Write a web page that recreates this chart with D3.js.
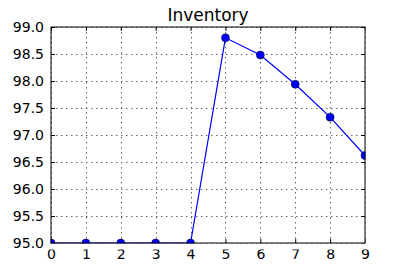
<!DOCTYPE html>
<html>
<head>
<meta charset="utf-8">
<script src="https://cdn.jsdelivr.net/npm/d3@7"></script>
<style>
  body { margin: 0; background: #fff; }
  svg { display: block; font-family: "DejaVu Sans", sans-serif; }
</style>
</head>
<body>
<div id="chart"></div>
<script>
// chart data
const steps = [0, 1, 2, 3, 4, 5, 6, 7, 8, 9];
const inventory = [95.0, 95.0, 95.0, 95.0, 95.0, 98.8, 98.48, 97.94, 97.33, 96.62];
const xTicks = [0, 1, 2, 3, 4, 5, 6, 7, 8, 9];
const yTicks = [95.0, 95.5, 96.0, 96.5, 97.0, 97.5, 98.0, 98.5, 99.0];

const W = 405, H = 270;
const margin = { top: 27, right: 40, bottom: 27, left: 51 };
const width = W - margin.left - margin.right;
const height = H - margin.top - margin.bottom;

const svg = d3.select("#chart").append("svg")
    .attr("width", W)
    .attr("height", H);

const chart = svg.append("g")
    .attr("transform", `translate(${margin.left}, ${margin.top})`);

const xScale = d3.scaleLinear().domain([0, 9]).range([0, width]);
const yScale = d3.scaleLinear().domain([95, 99]).range([height, 0]);

// grid lines (dotted, matplotlib classic)
chart.append("g")
    .selectAll("line")
    .data(xTicks)
    .enter()
    .append("line")
    .attr("x1", d => Math.round(xScale(d)) + 0.5)
    .attr("x2", d => Math.round(xScale(d)) + 0.5)
    .attr("y1", 0)
    .attr("y2", height)
    .style("stroke", "#666")
    .style("stroke-width", 1)
    .style("stroke-dasharray", "1.5,3.5");

chart.append("g")
    .selectAll("line")
    .data(yTicks)
    .enter()
    .append("line")
    .attr("x1", 0)
    .attr("x2", width)
    .attr("y1", d => Math.round(yScale(d)) + 0.5)
    .attr("y2", d => Math.round(yScale(d)) + 0.5)
    .style("stroke", "#666")
    .style("stroke-width", 1)
    .style("stroke-dasharray", "1.5,3.5");

// axes, ticks pointing inward like matplotlib classic
let xAxis = d3.axisBottom(xScale).tickValues(xTicks).tickSize(-4).tickPadding(6.5).tickFormat(d3.format("d"));
let yAxis = d3.axisLeft(yScale).tickValues(yTicks).tickSize(-4).tickPadding(7).tickFormat(d3.format(".1f"));
let xTop = d3.axisTop(xScale).tickValues(xTicks).tickSize(-4).tickFormat("");
let yRight = d3.axisRight(yScale).tickValues(yTicks).tickSize(-4).tickFormat("");

chart.append("g").attr("transform", `translate(0, ${height})`).call(xAxis);
chart.append("g").call(yAxis);
chart.append("g").call(xTop);
chart.append("g").attr("transform", `translate(${width}, 0)`).call(yRight);

chart.selectAll(".domain").remove();
chart.selectAll(".tick line").style("stroke", "#000");
chart.selectAll(".tick text")
    .style("font-family", "DejaVu Sans, sans-serif")
    .style("font-size", "14px")
    .style("fill", "#000");

const plot = chart.append("g");

const line = d3.line()
    .x((d, i) => xScale(steps[i]))
    .y(d => yScale(d));

plot.append("path")
    .datum(inventory)
    .attr("d", line)
    .style("fill", "none")
    .style("stroke", "#0000ff")
    .style("stroke-width", 1.2);

plot.selectAll(".dot")
    .data(inventory)
    .enter()
    .append("circle")
    .attr("class", "dot")
    .attr("cx", (d, i) => xScale(steps[i]))
    .attr("cy", d => yScale(d))
    .attr("r", 4)
    .style("fill", "#0000ff")
    .style("stroke", "#000")
    .style("stroke-width", 0.5);

// clip markers at the axes edges like matplotlib
chart.append("rect").attr("x", width + 0.5).attr("y", -6).attr("width", 10).attr("height", height + 12).style("fill", "#fff");
chart.append("rect").attr("x", -6).attr("y", height + 0.5).attr("width", width + 12).attr("height", 6).style("fill", "#fff");
chart.append("rect").attr("x", -6).attr("y", -6).attr("width", 5.5).attr("height", height + 12).style("fill", "#fff");

// frame
chart.append("rect")
    .attr("width", width)
    .attr("height", height)
    .style("fill", "none")
    .style("stroke", "#000")
    .style("stroke-width", 1);
chart.selectAll(".tick text").raise();

// title
svg.append("text")
    .attr("x", margin.left + width / 2)
    .attr("y", margin.top - 6)
    .style("text-anchor", "middle")
    .style("font-size", "17px")
    .style("fill", "#000")
    .text("Inventory");
</script>
</body>
</html>
